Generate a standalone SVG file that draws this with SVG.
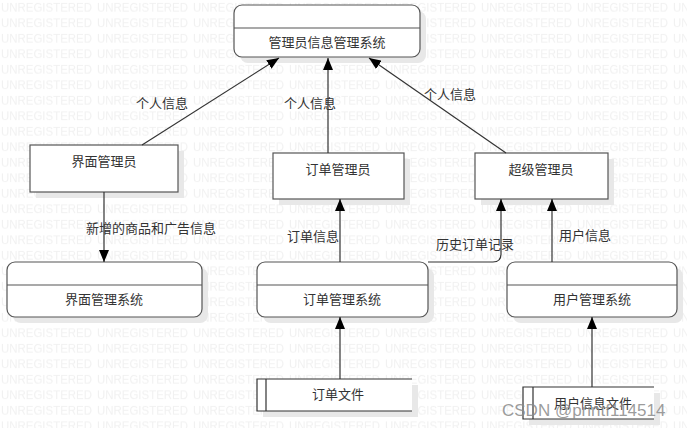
<svg xmlns="http://www.w3.org/2000/svg" width="687" height="428" viewBox="0 0 687 428">
  <style>
    .box { fill: #ffffff; stroke: #555555; stroke-width: 1.2; }
    .shadow { fill: #e8e8e8; stroke: none; }
    .div { stroke: #555555; stroke-width: 1.2; }
    .t { font-family: "Noto Sans CJK SC", "Noto Sans", sans-serif; font-size: 13px; fill: #333333; text-anchor: middle; }
    .edge { fill: none; stroke: #333333; stroke-width: 1.2; }
    .wm { font-family: "Liberation Sans", Arial, sans-serif; font-size: 12px; fill: #f1f1f1; }
  </style>
  <defs>
    <marker id="arr" viewBox="0 0 12 10" refX="12" refY="5" markerWidth="12" markerHeight="10" markerUnits="userSpaceOnUse" orient="auto">
      <path d="M0 0 L12 5 L0 10 Z" fill="#000000"/>
    </marker>
    <pattern id="wmp" x="0" y="0" width="96" height="15.5" patternUnits="userSpaceOnUse">
      <text class="wm" x="1" y="12" textLength="91" lengthAdjust="spacingAndGlyphs">UNREGISTERED</text>
    </pattern>
  </defs>
  <rect width="687" height="428" fill="#ffffff"/>
  <rect width="687" height="428" fill="url(#wmp)"/>

  <g id="n-top">
    <rect class="shadow" x="240" y="11" width="186" height="52" rx="8"/>
    <rect class="box" x="234" y="5" width="186" height="52" rx="8"/>
    <line class="div" x1="234" y1="28" x2="420" y2="28"/>
    <text class="t" x="327" y="47">管理员信息管理系统</text>
  </g>

  <g id="n-ui-admin">
    <rect class="shadow" x="36" y="151" width="148" height="47"/>
    <rect class="box" x="30" y="145" width="148" height="47"/>
    <text class="t" x="104" y="166">界面管理员</text>
  </g>

  <g id="n-order-admin">
    <rect class="shadow" x="279" y="159" width="131" height="46"/>
    <rect class="box" x="273" y="153" width="131" height="46"/>
    <text class="t" x="338" y="174">订单管理员</text>
  </g>

  <g id="n-super-admin">
    <rect class="shadow" x="481" y="159" width="133" height="46"/>
    <rect class="box" x="475" y="153" width="133" height="46"/>
    <text class="t" x="541" y="174">超级管理员</text>
  </g>

  <g id="n-ui-sys">
    <rect class="shadow" x="13" y="268" width="195" height="55" rx="8"/>
    <rect class="box" x="7" y="262" width="195" height="55" rx="8"/>
    <line class="div" x1="7" y1="285" x2="202" y2="285"/>
    <text class="t" x="104" y="304">界面管理系统</text>
  </g>

  <g id="n-order-sys">
    <rect class="shadow" x="263" y="268" width="171" height="55" rx="8"/>
    <rect class="box" x="257" y="262" width="171" height="55" rx="8"/>
    <line class="div" x1="257" y1="285" x2="428" y2="285"/>
    <text class="t" x="342" y="304">订单管理系统</text>
  </g>

  <g id="n-user-sys">
    <rect class="shadow" x="513" y="268" width="170" height="55" rx="8"/>
    <rect class="box" x="507" y="262" width="170" height="55" rx="8"/>
    <line class="div" x1="507" y1="285" x2="677" y2="285"/>
    <text class="t" x="592" y="304">用户管理系统</text>
  </g>

  <g id="n-order-file">
    <rect class="shadow" x="263" y="385" width="155" height="32"/>
    <rect x="257" y="379" width="155" height="32" fill="#ffffff"/>
    <path class="edge" stroke="#555555" d="M412 379 H257 V411 H412 M266 379 V411"/>
    <text class="t" x="338" y="399">订单文件</text>
  </g>

  <g id="n-user-file">
    <rect class="shadow" x="529" y="393" width="131" height="32"/>
    <rect x="523" y="387" width="131" height="32" fill="#ffffff"/>
    <path class="edge" stroke="#555555" d="M654 387 H523 V419 H654 M533 387 V419"/>
    <text class="t" x="593" y="408">用户信息文件</text>
  </g>

  <g id="connectors">
    <path class="edge" d="M142 145 L279 58" marker-end="url(#arr)"/>
    <path class="edge" d="M328 153 V58" marker-end="url(#arr)"/>
    <path class="edge" d="M506 153 L369 58" marker-end="url(#arr)"/>
    <path class="edge" d="M104 192 V262" marker-end="url(#arr)"/>
    <path class="edge" d="M340 262 V199" marker-end="url(#arr)"/>
    <path class="edge" d="M428 262 H493 Q501 262 501 254 V199" marker-end="url(#arr)"/>
    <path class="edge" d="M552 262 V199" marker-end="url(#arr)"/>
    <path class="edge" d="M340 379 V317" marker-end="url(#arr)"/>
    <path class="edge" d="M592 387 V317" marker-end="url(#arr)"/>
    <text class="t" x="162" y="108">个人信息</text>
    <text class="t" x="310" y="108">个人信息</text>
    <text class="t" x="450" y="99">个人信息</text>
    <text class="t" x="151" y="233">新增的商品和广告信息</text>
    <text class="t" x="313" y="241">订单信息</text>
    <text class="t" x="475" y="249">历史订单记录</text>
    <text class="t" x="585" y="240">用户信息</text>
  </g>

  <text x="502" y="416" font-family="Liberation Sans, Arial, sans-serif" font-size="17" fill="#8a8a8a" fill-opacity="0.85">CSDN @printf114514</text>
</svg>
